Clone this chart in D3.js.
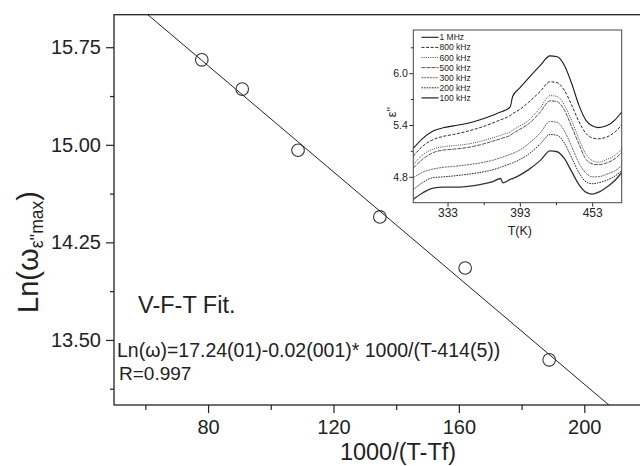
<!DOCTYPE html>
<html>
<head>
<meta charset="utf-8">
<script src="https://cdn.jsdelivr.net/npm/d3@7"></script>
<style>
  body { margin: 0; background: #fff; }
  svg { display: block; }
  text { font-family: "Liberation Sans", Arial, Helvetica, sans-serif; fill: #222; }
</style>
</head>
<body>
<svg id="chart" width="640" height="466"></svg>
<script>
// ---- VFT fit: peak frequency vs 1000/(T - Tf) ----
const invT     = [78.0, 90.9, 108.7, 134.8, 162.0, 188.8];
const lnOmega  = [15.653, 15.428, 14.958, 14.446, 14.053, 13.347];
const fitIntercept = 17.24;
const fitSlope = -0.0204;

const xMajor = [80, 120, 160, 200];
const xMinor = [60, 100, 140, 180, 220];
const yMajor = [13.5, 14.25, 15.0, 15.75];
const yMinor = [13.125, 13.875, 14.625, 15.375];

// ---- inset: dielectric loss vs temperature ----
const temps = [304.6, 312, 321, 330, 338, 350, 360, 370, 377, 379, 385, 387, 393,
               400, 410, 418, 424, 430, 436, 442, 448, 453, 458, 465, 472, 477.5];
const freqLabels = ["1 MHz", "800 kHz", "600 kHz", "500 kHz", "300 kHz", "200 kHz", "100 kHz"];
const eps1MHz   = [5.13, 5.24, 5.33, 5.37, 5.39, 5.42, 5.46, 5.51, 5.55, 5.56, 5.61, 5.73, 5.83,
                   5.94, 6.09, 6.20, 6.19, 6.09, 5.88, 5.63, 5.45, 5.39, 5.37, 5.39, 5.46, 5.55];
const eps800kHz = [5.04, 5.15, 5.23, 5.27, 5.29, 5.33, 5.37, 5.42, 5.46, 5.47, 5.51, 5.53, 5.58,
                   5.66, 5.79, 5.90, 5.89, 5.80, 5.63, 5.44, 5.30, 5.25, 5.24, 5.26, 5.32, 5.40];
const eps600kHz = [4.94, 5.05, 5.12, 5.15, 5.16, 5.18, 5.21, 5.25, 5.28, 5.29, 5.32, 5.34, 5.39,
                   5.45, 5.60, 5.74, 5.73, 5.63, 5.45, 5.24, 5.06, 4.99, 4.97, 5.00, 5.05, 5.12];
const eps500kHz = [4.90, 5.00, 5.08, 5.11, 5.12, 5.14, 5.17, 5.21, 5.24, 5.25, 5.28, 5.30, 5.35,
                   5.41, 5.55, 5.68, 5.67, 5.57, 5.38, 5.18, 5.00, 4.95, 4.94, 4.96, 5.01, 5.08];
const eps300kHz = [4.79, 4.85, 4.89, 4.91, 4.92, 4.94, 4.96, 4.99, 5.02, 5.03, 5.06, 5.07, 5.11,
                   5.18, 5.31, 5.44, 5.43, 5.33, 5.15, 4.96, 4.84, 4.80, 4.80, 4.83, 4.87, 4.93];
const eps200kHz = [4.65, 4.73, 4.79, 4.80, 4.81, 4.83, 4.85, 4.88, 4.91, 4.92, 4.95, 4.96, 5.00,
                   5.06, 5.18, 5.29, 5.28, 5.19, 5.02, 4.85, 4.74, 4.72, 4.73, 4.76, 4.81, 4.87];
const eps100kHz = [4.54, 4.61, 4.67, 4.68, 4.68, 4.69, 4.71, 4.74, 4.78, 4.73, 4.77, 4.78, 4.82,
                   4.88, 4.99, 5.10, 5.09, 5.01, 4.86, 4.71, 4.62, 4.60, 4.62, 4.68, 4.76, 4.85];
const insetXMajor = [333, 393, 453];
const insetXMinor = [363, 423];
const insetYMajor = [4.8, 5.4, 6.0];
const insetYMinor = [5.1, 5.7, 6.3];

const epsSeries = [eps1MHz, eps800kHz, eps600kHz, eps500kHz, eps300kHz, eps200kHz, eps100kHz];
const seriesStyle = [
  { stroke: "#1a1a1a", dash: null,    width: 1.1 },
  { stroke: "#2a2a2a", dash: "3,1.6", width: 1.0 },
  { stroke: "#444",    dash: "1,1.2", width: 1.0 },
  { stroke: "#555",    dash: "4,1",   width: 1.0 },
  { stroke: "#666",    dash: "2,0.8", width: 1.0 },
  { stroke: "#2a2a2a", dash: "1.6,1", width: 1.0 },
  { stroke: "#333",    dash: null,    width: 1.3 }
];

const svg = d3.select("#chart");

// ---------- main panel ----------
const x = d3.scaleLinear().domain([50, 220]).range([114, 647]);
const y = d3.scaleLinear().domain([13, 16]).range([405, 14.7]);

svg.append("defs").append("clipPath").attr("id", "plotClip")
  .append("rect")
  .attr("x", x(50)).attr("y", y(16))
  .attr("width", x(220) - x(50)).attr("height", y(13) - y(16));

function styleAxis(g, fontSize) {
  g.select(".domain").remove();
  g.selectAll("line").attr("stroke", "#222").attr("stroke-width", 1.2);
  g.selectAll("text").attr("font-size", fontSize).attr("fill", "#222")
    .attr("font-family", "Liberation Sans, Arial, sans-serif");
}

svg.append("g").attr("transform", `translate(${x(50)},0)`)
  .call(d3.axisLeft(y).tickValues(yMajor).tickSize(8).tickPadding(5).tickFormat(d3.format(".2f")))
  .call(g => styleAxis(g, 20));
svg.append("g").attr("transform", `translate(${x(50)},0)`)
  .call(d3.axisLeft(y).tickValues(yMinor).tickSize(4).tickFormat(""))
  .call(g => styleAxis(g, 20));

svg.append("g").attr("transform", `translate(0,${y(13)})`)
  .call(d3.axisBottom(x).tickValues(xMajor).tickSize(8).tickPadding(7).tickFormat(d3.format("d")))
  .call(g => styleAxis(g, 20));
svg.append("g").attr("transform", `translate(0,${y(13)})`)
  .call(d3.axisBottom(x).tickValues(xMinor).tickSize(5).tickFormat(""))
  .call(g => styleAxis(g, 20));

// frame
svg.append("rect")
  .attr("x", x(50)).attr("y", y(16))
  .attr("width", x(220) - x(50)).attr("height", y(13) - y(16))
  .attr("fill", "none").attr("stroke", "#222").attr("stroke-width", 1.3);

// fitted line
const fitLine = d3.line().x(d => x(d)).y(d => y(fitIntercept + fitSlope * d));
svg.append("path")
  .attr("clip-path", "url(#plotClip)")
  .attr("d", fitLine([50, 220]))
  .attr("fill", "none").attr("stroke", "#222").attr("stroke-width", 1);

// measured points
svg.append("g").selectAll("circle")
  .data(invT.map((v, i) => [v, lnOmega[i]]))
  .join("circle")
  .attr("cx", d => x(d[0])).attr("cy", d => y(d[1])).attr("r", 6.3)
  .attr("fill", "none").attr("stroke", "#333").attr("stroke-width", 1.1);

// axis titles
svg.append("text")
  .attr("x", 398).attr("y", 460)
  .attr("text-anchor", "middle").attr("font-size", 23.5)
  .text("1000/(T-Tf)");

const yTitle = svg.append("text")
  .attr("transform", "translate(38,252) rotate(-90)")
  .attr("text-anchor", "middle").attr("font-size", 29);
yTitle.append("tspan").text("Ln(ω");
yTitle.append("tspan").attr("font-size", 17.5).attr("baseline-shift", "-30%").text("ε''max");
yTitle.append("tspan").text(")");

// annotations
svg.append("text").attr("x", 138).attr("y", 313).attr("font-size", 23.5).text("V-F-T Fit.");
svg.append("text").attr("x", 117).attr("y", 357).attr("font-size", 19.5)
  .text("Ln(ω)=17.24(01)-0.02(001)* 1000/(T-414(5))");
svg.append("text").attr("x", 119).attr("y", 380).attr("font-size", 19).text("R=0.997");

// ---------- inset ----------
const ix = d3.scaleLinear().domain([304.6, 477.5]).range([413.3, 621.7]);
const iy = d3.scaleLinear().domain([4.5, 6.5]).range([202.7, 30]);

svg.append("rect")
  .attr("x", ix(304.6)).attr("y", iy(6.5))
  .attr("width", ix(477.5) - ix(304.6)).attr("height", iy(4.5) - iy(6.5))
  .attr("fill", "#fff");

const inset = svg.append("g");

function styleInset(g, fontSize) {
  g.select(".domain").remove();
  g.selectAll("line").attr("stroke", "#333").attr("stroke-width", 1);
  g.selectAll("text").attr("font-size", fontSize).attr("fill", "#333")
    .attr("font-family", "Liberation Sans, Arial, sans-serif");
}

inset.append("g").attr("transform", `translate(${ix(304.6)},0)`)
  .call(d3.axisLeft(iy).tickValues(insetYMajor).tickSize(4).tickPadding(1.5).tickFormat(d3.format(".1f")))
  .call(g => styleInset(g, 10.5));
inset.append("g").attr("transform", `translate(${ix(304.6)},0)`)
  .call(d3.axisLeft(iy).tickValues(insetYMinor).tickSize(2.5).tickFormat(""))
  .call(g => styleInset(g, 10.5));
inset.append("g").attr("transform", `translate(0,${iy(4.5)})`)
  .call(d3.axisBottom(ix).tickValues(insetXMajor).tickSize(4).tickPadding(2).tickFormat(d3.format("d")))
  .call(g => styleInset(g, 12));
inset.append("g").attr("transform", `translate(0,${iy(4.5)})`)
  .call(d3.axisBottom(ix).tickValues(insetXMinor).tickSize(2.5).tickFormat(""))
  .call(g => styleInset(g, 12));

const epsLine = d3.line()
  .x((d, i) => ix(temps[i]))
  .y(d => iy(d))
  .curve(d3.curveMonotoneX);

inset.append("g").selectAll("path")
  .data(epsSeries)
  .join("path")
  .attr("d", d => epsLine(d))
  .attr("fill", "none")
  .attr("stroke", (d, i) => seriesStyle[i].stroke)
  .attr("stroke-width", (d, i) => seriesStyle[i].width)
  .attr("stroke-dasharray", (d, i) => seriesStyle[i].dash);

inset.append("rect")
  .attr("x", ix(304.6)).attr("y", iy(6.5))
  .attr("width", ix(477.5) - ix(304.6)).attr("height", iy(4.5) - iy(6.5))
  .attr("fill", "none").attr("stroke", "#444").attr("stroke-width", 1);

// legend
const legend = inset.append("g").selectAll("g")
  .data(freqLabels)
  .join("g")
  .attr("transform", (d, i) => `translate(421.5,${37.3 + i * 10.1})`);
legend.append("line")
  .attr("x1", 0).attr("x2", 17).attr("y1", 0).attr("y2", 0)
  .attr("stroke", (d, i) => seriesStyle[i].stroke)
  .attr("stroke-width", (d, i) => seriesStyle[i].width)
  .attr("stroke-dasharray", (d, i) => seriesStyle[i].dash);
legend.append("text")
  .attr("x", 18).attr("y", 3)
  .attr("font-size", 8.5).attr("fill", "#333")
  .text(d => d);

// inset axis titles
inset.append("text")
  .attr("x", ix(393)).attr("y", 235)
  .attr("text-anchor", "middle").attr("font-size", 12.5).attr("fill", "#333")
  .text("T(K)");
inset.append("text")
  .attr("transform", "translate(396,112) rotate(-90)")
  .attr("text-anchor", "middle").attr("font-size", 12.5).attr("fill", "#333")
  .text("ε''");
</script>
</body>
</html>
